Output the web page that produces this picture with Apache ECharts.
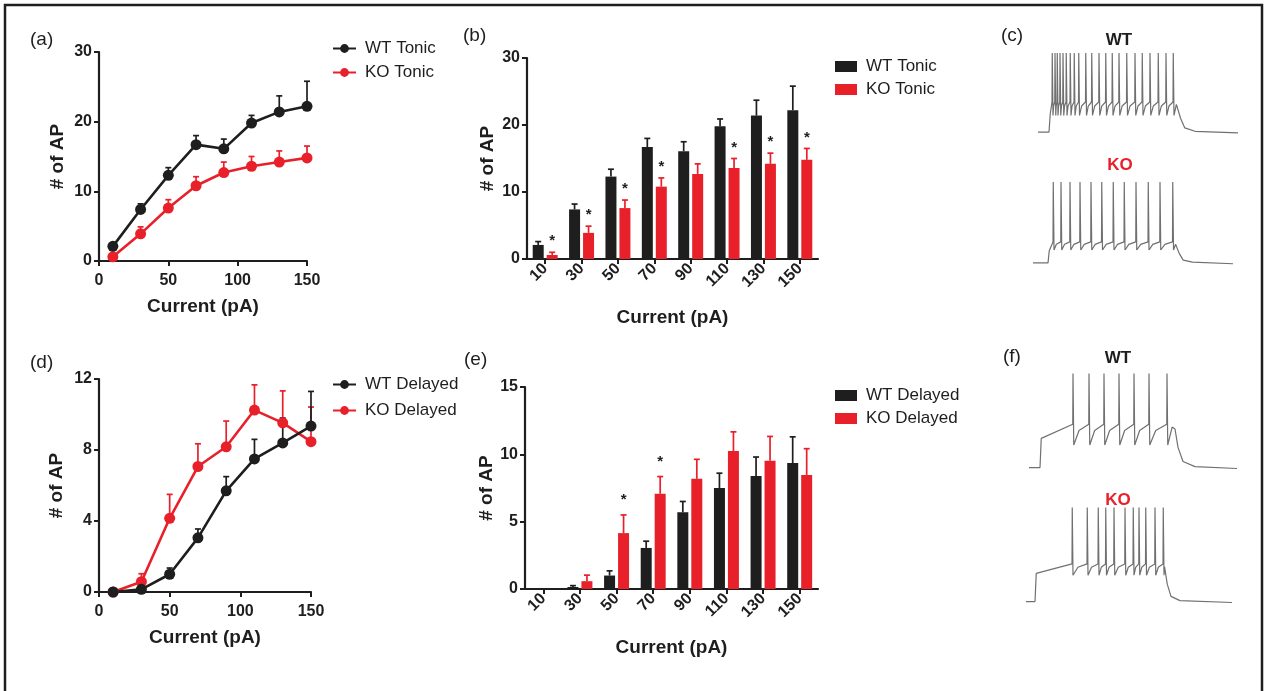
<!DOCTYPE html>
<html>
<head>
<meta charset="utf-8">
<script src="https://cdn.jsdelivr.net/npm/echarts@6/dist/echarts.min.js"></script>
<style>
  html, body { margin: 0; padding: 0; background: #fff; }
  #chart { width: 1264px; height: 691px; }
</style>
</head>
<body>
<div id="chart"></div>
<script>
// injected current steps (pA)
const currents = [10, 30, 50, 70, 90, 110, 130, 150];
const currentLabels = ['10', '30', '50', '70', '90', '110', '130', '150'];

// tonic firing: mean # of AP and SEM
const wtTonic = [2.1, 7.4, 12.3, 16.7, 16.1, 19.8, 21.4, 22.2];
const wtTonicSem = [0.5, 0.8, 1.1, 1.3, 1.4, 1.1, 2.3, 3.6];
const koTonic = [0.6, 3.9, 7.6, 10.8, 12.7, 13.6, 14.2, 14.8];
const koTonicSem = [0.4, 1.0, 1.2, 1.3, 1.5, 1.4, 1.6, 1.7];
const tonicStars = [1, 1, 1, 1, 0, 1, 1, 1];

// delayed firing
const wtDelayed = [0, 0.15, 1.0, 3.05, 5.7, 7.5, 8.4, 9.35];
const wtDelayedSem = [0, 0.1, 0.35, 0.5, 0.8, 1.1, 1.4, 1.95];
const koDelayed = [0, 0.58, 4.15, 7.07, 8.18, 10.25, 9.53, 8.47];
const koDelayedSem = [0, 0.45, 1.35, 1.28, 1.45, 1.42, 1.8, 1.95];
const delayedStars = [0, 0, 1, 1, 0, 0, 0, 0];

// example traces: spike times (ms)
const wtTonicSpikes = [129, 140, 149, 160, 172, 185, 201, 217, 235, 263, 287, 316, 343, 369, 396, 427, 460, 489, 520, 553, 584, 613];
const koTonicSpikes = [133, 164, 200, 240, 284, 327, 373, 417, 464, 513, 560, 611];
const wtDelayedSpikes = [212, 276, 336, 396, 456, 516, 588];
const koDelayedSpikes = [209, 269, 313, 343, 376, 420, 453, 476, 503, 540, 573];
// [start, onset, offset, settle, end] (ms)
const wtTonicTimes = [72, 116, 632, 700, 872];
const koTonicTimes = [52, 112, 628, 690, 852];
const wtDelayedTimes = [36, 80, 620, 700, 868];
const koDelayedTimes = [24, 60, 580, 640, 848];
// [rest, plateau, trough, threshold, peak] (mV)
const wtTonicLevels = [-70, -47, -49, -32, 30];
const koTonicLevels = [-70, -55, -54, -44, 30];
const wtDelayedLevels = [-70, -39, -46, -24, 30];
const koDelayedLevels = [-70, -40, -42, -30, 30];

const FONT = '"Liberation Sans", Arial, Helvetica, sans-serif';
const INK = '#1e1e1e';
const RED = '#e8202a';

const buildTrace = (spikes, times, levels) => {
    const [start, onset, offset, settle, end] = times;
    const [rest, plateau, trough, thr, peak] = levels;
    const pts = [[start, rest], [onset, rest], [onset + 5, plateau]];
    spikes.forEach((s, i) => {
        if (i > 0) {
            const t0 = spikes[i - 1] + 3;
            const gap = s - 1 - t0;
            pts.push([t0 + gap * 0.35, trough + (thr - trough) * 0.7]);
        }
        pts.push([s - 1, thr]);
        pts.push([s, peak]);
        pts.push([s + 3, trough]);
    });
    const last = spikes[spikes.length - 1] + 3;
    const v0 = thr - 3;
    const d = settle - offset;
    pts.push([last + (offset - last) * 0.6, v0]);
    pts.push([offset, v0 - 2]);
    pts.push([offset + d * 0.15, v0 - (v0 - rest) * 0.5]);
    pts.push([offset + d * 0.4, rest + (v0 - rest) * 0.15]);
    pts.push([settle, rest + 1]);
    pts.push([end, rest - 1]);
    return pts;
};

const axisBase = {
    axisLine: { show: true, lineStyle: { color: INK, width: 2.2 } },
    axisTick: { show: true, length: 5, lineStyle: { color: INK, width: 2 } },
    axisLabel: { color: INK, fontFamily: FONT, fontWeight: 'bold', fontSize: 16 },
    splitLine: { show: false },
    nameLocation: 'middle',
    nameTextStyle: { color: INK, fontFamily: FONT, fontWeight: 'bold', fontSize: 19 }
};

const valueX = (grid) => Object.assign({}, axisBase, {
    type: 'value', gridIndex: grid, min: 0, max: 150, interval: 50,
    name: 'Current (pA)', nameGap: 36,
    axisLabel: Object.assign({}, axisBase.axisLabel, { margin: 12 })
});
const catX = (grid) => Object.assign({}, axisBase, {
    type: 'category', gridIndex: grid, data: currentLabels,
    name: 'Current (pA)', nameGap: 49,
    axisTick: Object.assign({}, axisBase.axisTick, { alignWithLabel: true }),
    axisLabel: Object.assign({}, axisBase.axisLabel, { rotate: 45, fontSize: 16, margin: 7, interval: 0 })
});
const valueY = (grid, max, interval, gap) => Object.assign({}, axisBase, {
    type: 'value', gridIndex: grid, min: 0, max: max, interval: interval,
    name: '# of AP', nameGap: gap,
    axisLabel: Object.assign({}, axisBase.axisLabel, { margin: 7 })
});
const hiddenX = (grid) => ({ type: 'value', gridIndex: grid, min: 0, max: 900, show: false });
const hiddenY = (grid) => ({ type: 'value', gridIndex: grid, min: -80, max: 40, show: false });

const lineSeries = (name, grid, values, color) => ({
    name: name, type: 'line', xAxisIndex: grid, yAxisIndex: grid, z: 3,
    data: currents.map((c, i) => [c, values[i]]),
    symbol: 'circle', symbolSize: 11,
    itemStyle: { color: color },
    lineStyle: { color: color, width: 2.6 }
});

const lineErr = (grid, values, sems, color) => ({
    type: 'custom', xAxisIndex: grid, yAxisIndex: grid, z: 2,
    data: currents.map((c, i) => [c, values[i], values[i] + sems[i]]),
    renderItem: (params, api) => {
        if (api.value(2) <= api.value(1)) return null;
        const p0 = api.coord([api.value(0), api.value(1)]);
        const p1 = api.coord([api.value(0), api.value(2)]);
        const st = { stroke: color, lineWidth: 1.7 };
        return {
            type: 'group', children: [
                { type: 'line', shape: { x1: p0[0], y1: p0[1], x2: p1[0], y2: p1[1] }, style: st },
                { type: 'line', shape: { x1: p1[0] - 3, y1: p1[1], x2: p1[0] + 3, y2: p1[1] }, style: st }
            ]
        };
    }
});

const barSeries = (name, grid, values, color) => ({
    name: name, type: 'bar', xAxisIndex: grid, yAxisIndex: grid,
    data: values, barWidth: 11, barGap: '27%',
    itemStyle: { color: color }
});

const barErr = (grid, values, sems, color, dx) => ({
    type: 'custom', xAxisIndex: grid, yAxisIndex: grid, z: 3,
    data: values.map((v, i) => [i, v, v + sems[i]]),
    renderItem: (params, api) => {
        if (api.value(2) <= api.value(1)) return null;
        const p0 = api.coord([api.value(0), api.value(1)]);
        const p1 = api.coord([api.value(0), api.value(2)]);
        const x = p0[0] + dx;
        const st = { stroke: color, lineWidth: 1.7 };
        return {
            type: 'group', children: [
                { type: 'line', shape: { x1: x, y1: p0[1], x2: x, y2: p1[1] }, style: st },
                { type: 'line', shape: { x1: x - 3, y1: p1[1], x2: x + 3, y2: p1[1] }, style: st }
            ]
        };
    }
});

const starSeries = (grid, values, sems, flags, dx, lift) => ({
    type: 'custom', xAxisIndex: grid, yAxisIndex: grid, z: 4,
    data: values.map((v, i) => [i, v + sems[i], flags[i]]).filter(d => d[2]),
    renderItem: (params, api) => {
        const p = api.coord([api.value(0), api.value(1)]);
        return {
            type: 'text', x: p[0] + dx, y: p[1] - lift,
            style: { text: '*', fill: INK, font: 'bold 15px ' + FONT, align: 'center', verticalAlign: 'middle' }
        };
    }
});

const traceSeries = (grid, spikes, times, levels) => ({
    type: 'line', xAxisIndex: grid, yAxisIndex: grid,
    data: buildTrace(spikes, times, levels),
    symbol: 'none', silent: true,
    lineStyle: { color: '#707070', width: 1.2 }
});

const legendText = { color: INK, fontFamily: FONT, fontSize: 17, lineHeight: 17, padding: [0, 0, 0, 4] };
const makeLegend = (names, left, top, gap, isBar) => ({
    data: names, left: left, top: top, orient: 'vertical',
    itemWidth: isBar ? 22 : 23, itemHeight: 11, itemGap: gap,
    selectedMode: false,
    icon: isBar ? 'rect' : undefined,
    formatter: n => n.replace(' bars', ''),
    textStyle: legendText
});

const label = (text, x, y, opts) => ({
    type: 'text', x: x, y: y,
    style: Object.assign({ text: text, fill: INK, font: '19px ' + FONT, align: 'left', verticalAlign: 'middle' }, opts || {})
});

const chart = echarts.init(document.getElementById('chart'), null, { renderer: 'canvas' });

const option = {
    backgroundColor: '#fff',
    animation: false,
    grid: [
        { left: 99, top: 52, width: 208, height: 209 },
        { left: 527, top: 58, width: 291, height: 201 },
        { left: 99, top: 379, width: 212, height: 213 },
        { left: 525, top: 387, width: 293, height: 202 },
        { left: 1020, top: 45, width: 225, height: 95 },
        { left: 1020, top: 174, width: 225, height: 97 },
        { left: 1020, top: 364, width: 225, height: 113 },
        { left: 1020, top: 498, width: 225, height: 113 }
    ],
    xAxis: [valueX(0), catX(1), valueX(2), catX(3), hiddenX(4), hiddenX(5), hiddenX(6), hiddenX(7)],
    yAxis: [
        valueY(0, 30, 10, 32), valueY(1, 30, 10, 30), valueY(2, 12, 4, 33), valueY(3, 15, 5, 29),
        hiddenY(4), hiddenY(5), hiddenY(6), hiddenY(7)
    ],
    legend: [
        makeLegend(['WT Tonic', 'KO Tonic'], 327, 35, 7, false),
        makeLegend(['WT Tonic bars', 'KO Tonic bars'], 830, 53, 6, true),
        makeLegend(['WT Delayed', 'KO Delayed'], 327, 371, 9, false),
        makeLegend(['WT Delayed bars', 'KO Delayed bars'], 830, 382, 6, true)
    ],
    series: [
        lineErr(0, koTonic, koTonicSem, RED),
        lineErr(0, wtTonic, wtTonicSem, INK),
        lineSeries('KO Tonic', 0, koTonic, RED),
        lineSeries('WT Tonic', 0, wtTonic, INK),

        barSeries('WT Tonic bars', 1, wtTonic, INK),
        barSeries('KO Tonic bars', 1, koTonic, RED),
        barErr(1, wtTonic, wtTonicSem, INK, -7),
        barErr(1, koTonic, koTonicSem, RED, 7),
        starSeries(1, koTonic, koTonicSem, tonicStars, 7, 11),

        lineErr(2, koDelayed, koDelayedSem, RED),
        lineErr(2, wtDelayed, wtDelayedSem, INK),
        lineSeries('KO Delayed', 2, koDelayed, RED),
        lineSeries('WT Delayed', 2, wtDelayed, INK),

        barSeries('WT Delayed bars', 3, wtDelayed, INK),
        barSeries('KO Delayed bars', 3, koDelayed, RED),
        barErr(3, wtDelayed, wtDelayedSem, INK, -7),
        barErr(3, koDelayed, koDelayedSem, RED, 7),
        starSeries(3, koDelayed, koDelayedSem, delayedStars, 7, 15),

        traceSeries(4, wtTonicSpikes, wtTonicTimes, wtTonicLevels),
        traceSeries(5, koTonicSpikes, koTonicTimes, koTonicLevels),
        traceSeries(6, wtDelayedSpikes, wtDelayedTimes, wtDelayedLevels),
        traceSeries(7, koDelayedSpikes, koDelayedTimes, koDelayedLevels)
    ],
    graphic: [
        { type: 'rect', shape: { x: 5, y: 5, width: 1257, height: 700 }, style: { fill: 'none', stroke: INK, lineWidth: 2.5 }, silent: true },
        label('(a)', 30, 40),
        label('(b)', 463, 36),
        label('(c)', 1001, 36),
        label('(d)', 30, 363),
        label('(e)', 464, 360),
        label('(f)', 1003, 357),
        label('WT', 1119, 40, { font: 'bold 17px ' + FONT, align: 'center' }),
        label('KO', 1120, 165, { font: 'bold 17px ' + FONT, align: 'center', fill: RED }),
        label('WT', 1118, 358, { font: 'bold 17px ' + FONT, align: 'center' }),
        label('KO', 1118, 500, { font: 'bold 17px ' + FONT, align: 'center', fill: RED })
    ]
};

chart.setOption(option);
</script>
</body>
</html>
